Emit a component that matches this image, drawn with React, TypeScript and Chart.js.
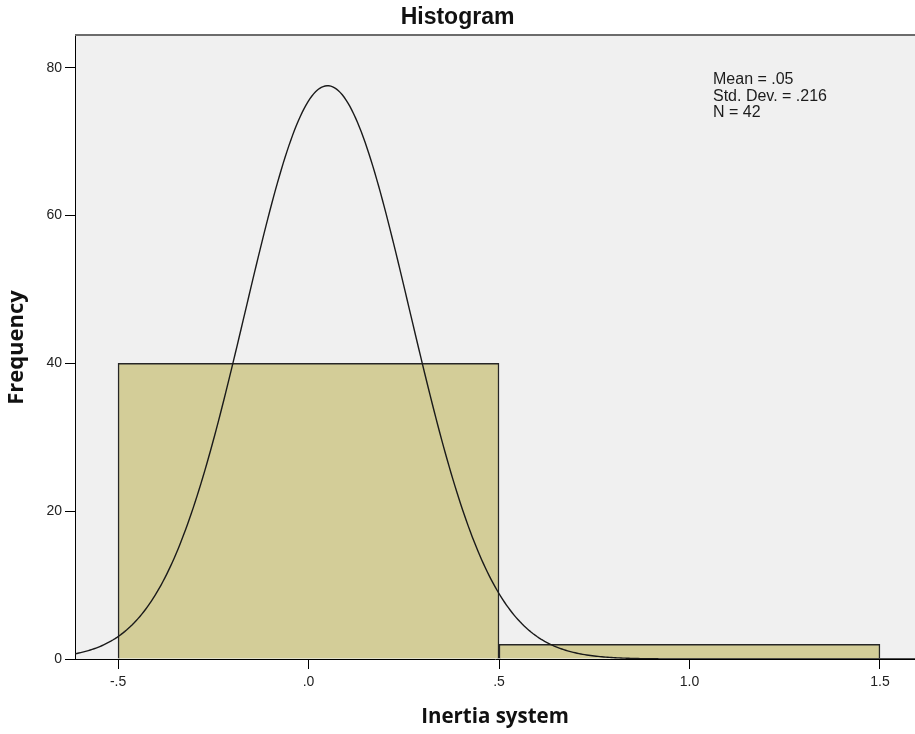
import React, { useEffect, useRef } from 'react';
import { Chart, registerables } from 'chart.js';

Chart.register(...registerables);

// Histogram bins (edges) and the frequency in each bin
const binEdges = [-0.5, 0.5, 1.5];
const binCounts = [40, 2];

// Axis ticks and their printed labels
const xTickValues = [-0.5, 0, 0.5, 1.0, 1.5];
const xTickLabels = ['-.5', '.0', '.5', '1.0', '1.5'];
const yTickValues = [0, 20, 40, 60, 80];

// Descriptive statistics shown in the plot and used for the normal curve
const MEAN = 0.05;
const STD_DEV = 0.216;
const N = 42;
const statLines = ['Mean = .05', 'Std. Dev. = .216', 'N = 42'];

// Visible axis ranges
const X_MIN = -0.613;
const X_MAX = 1.592;
const Y_MAX = 84.3;

const SANS = "'Liberation Sans', Arial, sans-serif";
const TITLE_SANS = "'Open Sans', 'Liberation Sans', sans-serif";

const binWidth = binEdges[1] - binEdges[0];

// One bar per bin, placed at the bin centre
const barPoints = binCounts.map((count, i) => ({
  x: (binEdges[i] + binEdges[i + 1]) / 2,
  y: count,
}));

// Normal density scaled to frequency (N * bin width * pdf)
const normalFreq = (x: number) => {
  const z = (x - MEAN) / STD_DEV;
  return (N * binWidth * Math.exp(-0.5 * z * z)) / (STD_DEV * Math.sqrt(2 * Math.PI));
};
const CURVE_STEPS = 440;
const curvePoints = Array.from({ length: CURVE_STEPS + 1 }, (_, i) => {
  const x = X_MIN + ((X_MAX - X_MIN) * i) / CURVE_STEPS;
  return { x, y: normalFreq(x) };
});

// Grey plot background with a darker frame line along the top
const plotBackground = {
  id: 'plotBackground',
  beforeDraw(chart: any) {
    const { ctx, chartArea } = chart;
    const { left, top, right, bottom } = chartArea;
    ctx.save();
    ctx.fillStyle = '#f0f0f0';
    ctx.fillRect(left, top, right - left, bottom - top);
    ctx.strokeStyle = '#6c6c6c';
    ctx.lineWidth = 2;
    ctx.beginPath();
    ctx.moveTo(left, top - 1);
    ctx.lineTo(right, top - 1);
    ctx.stroke();
    ctx.restore();
  },
};

// Statistics block in the upper right of the plot
const statsLabel = {
  id: 'statsLabel',
  afterDatasetsDraw(chart: any) {
    const { ctx, chartArea } = chart;
    ctx.save();
    ctx.font = `16px ${SANS}`;
    ctx.fillStyle = '#1c1c1c';
    ctx.textAlign = 'left';
    ctx.textBaseline = 'middle';
    statLines.forEach((line, i) => {
      ctx.fillText(line, chartArea.right - 202, chartArea.top + 44 + i * 16.5);
    });
    ctx.restore();
  },
};

export default function App() {
  const canvasRef = useRef<HTMLCanvasElement>(null);

  useEffect(() => {
    const chart = new Chart(canvasRef.current as HTMLCanvasElement, {
      type: 'bar',
      data: {
        datasets: [
          {
            type: 'line',
            label: 'Normal',
            data: curvePoints,
            borderColor: '#1a1a1a',
            borderWidth: 1.4,
            pointRadius: 0,
            fill: false,
            tension: 0,
            order: 0,
          } as any,
          {
            type: 'bar',
            label: 'Frequency',
            data: barPoints,
            backgroundColor: '#d3cd98',
            borderColor: '#262626',
            borderWidth: 1.5,
            barThickness: 'flex',
            barPercentage: 1,
            categoryPercentage: 1,
            order: 1,
          } as any,
        ],
      },
      options: {
        responsive: false,
        animation: false,
        devicePixelRatio: 1,
        layout: { padding: 0 },
        plugins: {
          legend: { display: false },
          tooltip: { enabled: false },
          title: {
            display: true,
            text: 'Histogram',
            color: '#111',
            font: { family: SANS, size: 23, weight: 'bold', lineHeight: 1.2 },
            padding: { top: 4, bottom: 4.4 },
          },
        },
        scales: {
          x: {
            type: 'linear',
            min: X_MIN,
            max: X_MAX,
            offset: false,
            afterBuildTicks: (scale: any) => {
              scale.ticks = xTickValues.map((v) => ({ value: v }));
            },
            afterFit: (scale: any) => {
              scale.height = 75;
            },
            grid: {
              display: true,
              offset: false,
              drawOnChartArea: false,
              drawTicks: true,
              tickLength: 10,
              color: '#000',
              lineWidth: 1,
            },
            border: { display: true, color: '#000', width: 1 },
            ticks: {
              autoSkip: false,
              maxRotation: 0,
              padding: 5,
              color: '#222',
              font: { family: SANS, size: 14 },
              callback: (_v: any, index: number) => xTickLabels[index],
            },
            title: {
              display: true,
              text: 'Inertia system',
              color: '#111',
              font: { family: TITLE_SANS, size: 20.5, weight: 'bold' },
              padding: { top: 0, bottom: 5 },
            },
          },
          y: {
            type: 'linear',
            min: 0,
            max: Y_MAX,
            afterBuildTicks: (scale: any) => {
              scale.ticks = yTickValues.map((v) => ({ value: v }));
            },
            afterFit: (scale: any) => {
              scale.width = 75;
            },
            grid: {
              display: true,
              drawOnChartArea: false,
              drawTicks: true,
              tickLength: 10,
              color: '#000',
              lineWidth: 1,
            },
            border: { display: true, color: '#000', width: 1 },
            ticks: {
              padding: 3,
              color: '#222',
              font: { family: SANS, size: 14 },
            },
            title: {
              display: true,
              text: 'Frequency',
              color: '#111',
              font: { family: TITLE_SANS, size: 22, weight: 'bold' },
              padding: { top: 4, bottom: 0 },
            },
          },
        },
      } as any,
      plugins: [plotBackground, statsLabel],
    });
    return () => chart.destroy();
  }, []);

  return (
    <div
      style={{
        position: 'fixed',
        left: 0,
        top: 0,
        width: 915,
        height: 734,
        background: '#ffffff',
      }}
    >
      <canvas ref={canvasRef} width={915} height={734} style={{ display: 'block' }} />
    </div>
  );
}
